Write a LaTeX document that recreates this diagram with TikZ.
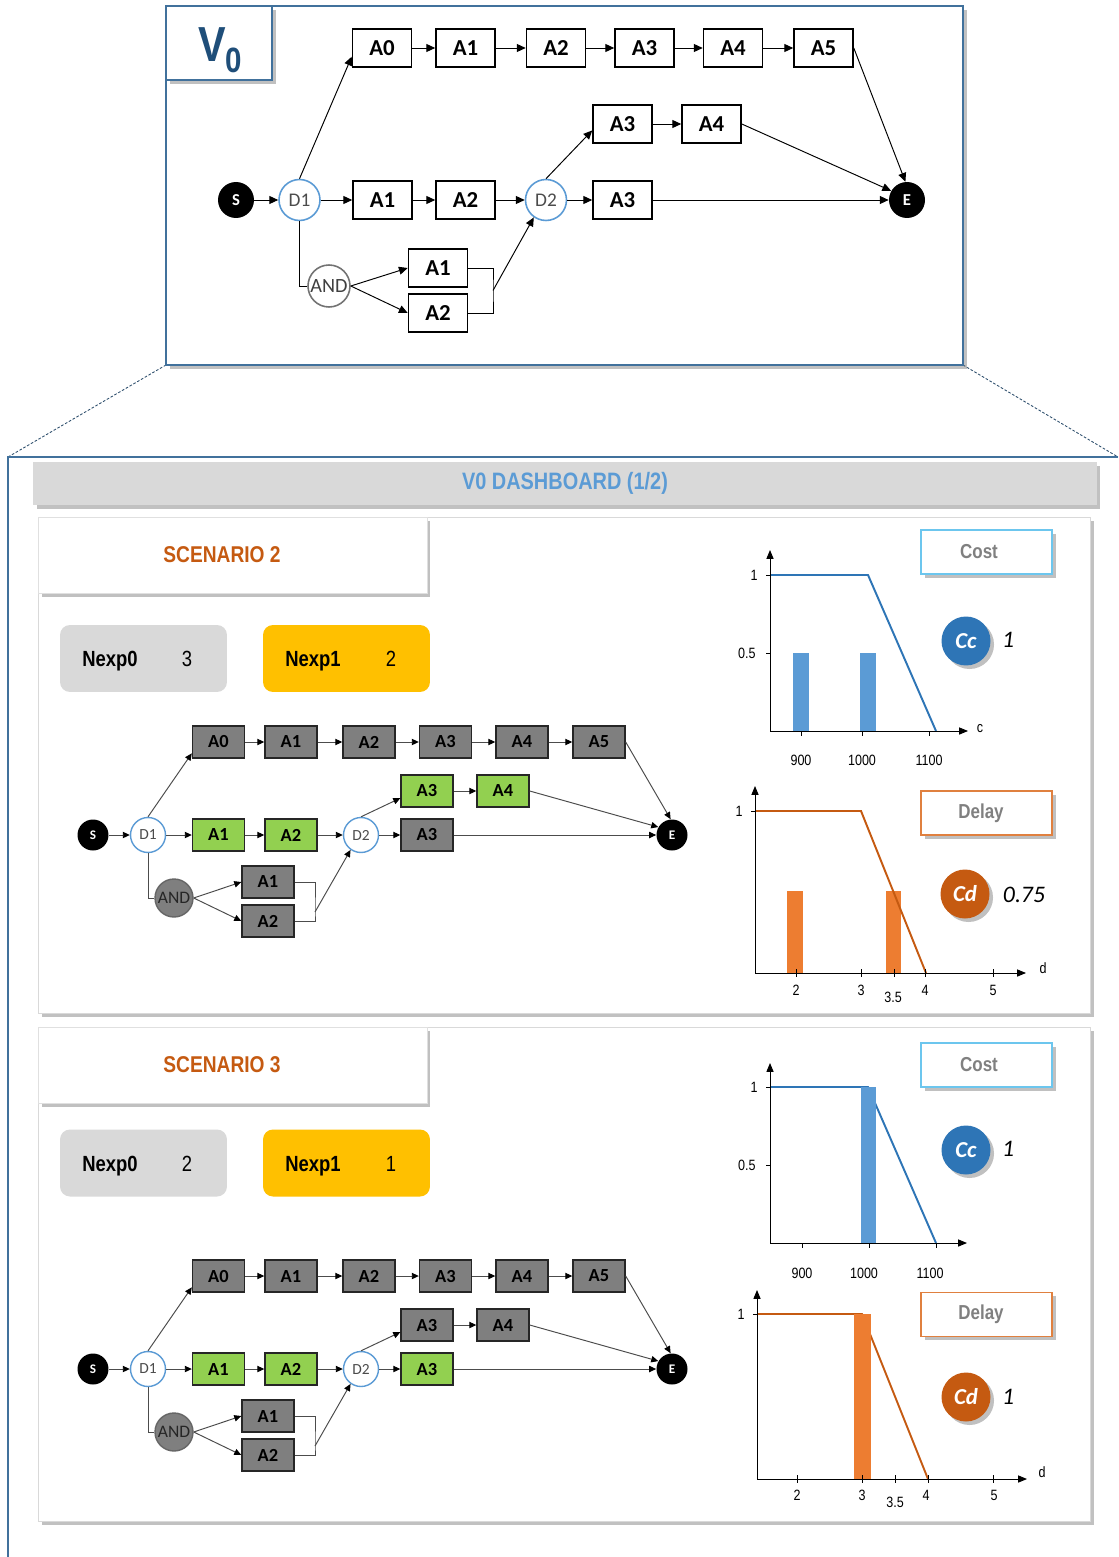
\documentclass[tikz,border=0pt]{standalone}
\usepackage{fontspec}
\setmainfont{Carlito}
\newfontfamily\narrowfont[FakeStretch=0.84]{Liberation Sans}
\usetikzlibrary{arrows.meta, shadows}

\definecolor{frameblue}{HTML}{41719C}
\definecolor{vblue}{HTML}{1F4E79}
\definecolor{decblue}{HTML}{5B9BD5}
\definecolor{actgray}{HTML}{7F7F7F}
\definecolor{actgreen}{HTML}{92D050}
\definecolor{headgray}{HTML}{D9D9D9}
\definecolor{scenorange}{HTML}{C55A11}
\definecolor{nexpgold}{HTML}{FFC000}
\definecolor{costcyan}{HTML}{6CC6EE}
\definecolor{costline}{HTML}{2E75B6}
\definecolor{costbar}{HTML}{5B9BD5}
\definecolor{delayline}{HTML}{C55A11}
\definecolor{delaybar}{HTML}{ED7D31}
\definecolor{delayframe}{HTML}{E0803F}

\begin{document}
\begin{tikzpicture}[
    x=0.02cm, y=-0.02cm,
    every node/.style={inner sep=0pt, align=center},
    boxshadow/.style={drop shadow={shadow xshift=2pt, shadow yshift=-2pt, opacity=0.35, fill=black!70}},
    topact/.style={draw, line width=0.9pt, fill=white, minimum width=1.18cm, minimum height=0.76cm,
                   font=\bfseries\fontsize{13}{13}\selectfont},
    topdec/.style={circle, draw=decblue, line width=0.9pt, fill=white, minimum size=0.82cm,
                   text=black!70, font=\fontsize{11}{11}\selectfont},
    topand/.style={circle, draw=black!55, line width=0.9pt, fill=white, minimum size=0.84cm,
                   text=black!75, font=\fontsize{11.5}{11.5}\selectfont},
    ends/.style={circle, fill=black, minimum size=0.72cm, text=white, font=\bfseries\fontsize{9.5}{9.5}\selectfont},
    sact/.style={draw=black!85, line width=0.8pt, minimum width=1.04cm, minimum height=0.64cm,
                 font=\bfseries\fontsize{10.5}{10.5}\selectfont},
    sdec/.style={circle, draw=decblue, line width=0.8pt, fill=white, minimum size=0.7cm,
                 text=black!70, font=\fontsize{8.8}{8.8}\selectfont},
    sand/.style={circle, draw=black!60, line width=0.8pt, fill=actgray, minimum size=0.76cm,
                 text=black!85, font=\fontsize{10}{10}\selectfont},
    sends/.style={circle, fill=black, minimum size=0.62cm, text=white, font=\bfseries\fontsize{7.5}{7.5}\selectfont},
    arr/.style={-{Triangle[length=5pt, width=4.5pt]}, line width=0.55pt},
    sarr/.style={-{Triangle[length=4pt, width=3.6pt, color=black]}, line width=0.55pt, draw=black!70},
    sline/.style={line width=0.55pt, draw=black!70},
    panel/.style={draw=black!15, fill=white, boxshadow},
    titlebox/.style={draw=black!12, fill=white, boxshadow, minimum width=7.78cm, minimum height=1.52cm,
                     text=scenorange, font=\narrowfont\bfseries\fontsize{13}{13}\selectfont},
    nexpgray/.style={fill=headgray, rounded corners=0.2cm, minimum width=3.34cm, minimum height=1.34cm},
    nexpyellow/.style={fill=nexpgold, rounded corners=0.2cm, minimum width=3.34cm, minimum height=1.34cm},
    nexplbl/.style={anchor=base, font=\narrowfont\bfseries\fontsize{12.5}{12.5}\selectfont},
    nexpval/.style={anchor=base, font=\narrowfont\fontsize{12.5}{12.5}\selectfont},
    costbox/.style={draw=costcyan, line width=0.8pt, fill=white, boxshadow, minimum width=2.62cm,
                    minimum height=0.88cm, text=black!50, font=\narrowfont\bfseries\fontsize{11.5}{11.5}\selectfont},
    delaybox/.style={costbox, draw=delayframe},
    cbadge/.style={circle, minimum size=0.98cm, boxshadow, text=white,
                   font=\bfseries\itshape\fontsize{13}{13}\selectfont},
    cval/.style={font=\itshape\fontsize{13.5}{13.5}\selectfont},
    axis/.style={line width=0.5pt, -{Triangle[length=5pt, width=4pt]}},
    tick/.style={line width=0.5pt},
    ticklbl/.style={font=\narrowfont\fontsize{8.5}{8.5}\selectfont},
    cline/.style={draw=costline, line width=1.1pt},
    dline/.style={draw=delayline, line width=1.1pt},
    zoomline/.style={draw=frameblue!70!black, line width=0.5pt, dash pattern=on 1.5pt off 1pt}
]
\useasboundingbox (0,0) rectangle (1118,1557);

% version frame
\draw[zoomline] (166,365) -- (8,457);
\draw[zoomline] (963,365) -- (1118,457);
\draw[draw=frameblue, line width=1pt, fill=white, boxshadow] (166,6) rectangle (963,365);
\node[draw=frameblue, line width=1pt, fill=white, boxshadow, minimum width=2.12cm, minimum height=1.48cm] (vbox) at (219,43) {};
\node[anchor=base west, text=vblue, font=\narrowfont\bfseries\fontsize{28}{28}\selectfont] (vname) at (198,62)
    {V\raisebox{-6pt}{\fontsize{20}{20}\selectfont 0}};

% process graph of V0
\node[ends]   (tS)   at (236,200)   {S};
\node[topdec] (tD1)  at (299.5,200) {D1};
\foreach \i/\xx in {0/382,1/465.5,2/556,3/644.5,4/733,5/823.5}
    \node[topact] (tA\i) at (\xx,48) {A\i};
\node[topact] (tB1)  at (382.5,200) {A1};
\node[topact] (tB2)  at (465.5,200) {A2};
\node[topdec] (tD2)  at (546,200)   {D2};
\node[topact] (tB3)  at (622.5,200) {A3};
\node[topact] (tC3)  at (622.5,124) {A3};
\node[topact] (tC4)  at (711.5,124) {A4};
\node[ends]   (tE)   at (907,200)   {E};
\node[topand] (tAND) at (329,286)   {AND};
\node[topact] (tP1)  at (438,268)   {A1};
\node[topact] (tP2)  at (438,313)   {A2};
\coordinate (tJ) at (493,290.5);

\draw[arr] (tS) -- (tD1);
\draw[arr] (tD1.north) -- (tA0.196);
\foreach \a/\b in {0/1,1/2,2/3,3/4,4/5}
    \draw[arr] (tA\a) -- (tA\b);
\draw[arr] (tA5.east) -- (tE.95);
\draw[arr] (tD1) -- (tB1);
\draw[arr] (tB1) -- (tB2);
\draw[arr] (tB2) -- (tD2);
\draw[arr] (tD2) -- (tB3);
\draw[arr] (tD2.north) -- (tC3.192);
\draw[arr] (tC3) -- (tC4);
\draw[arr] (tC4.east) -- (tE.150);
\draw[arr] (tB3) -- (tE);
\draw[line width=0.55pt] (tD1.south) |- (tAND.west);
\draw[arr] (tAND.east) -- (tP1.west);
\draw[arr] (tAND.east) -- (tP2.west);
\draw[line width=0.55pt] (tP1.east) -| (tJ) |- (tP2.east);
\draw[arr] (tJ) -- (tD2.235);

% dashboard
\draw[frameblue, line width=1pt] (8,1557) -- (8,457) -- (1118,457);
\node[fill=headgray, boxshadow, minimum width=21.28cm, minimum height=0.86cm, text=decblue,
      font=\narrowfont\bfseries\fontsize{13.5}{13.5}\selectfont] (head) at (565,483.5) {V0 DASHBOARD (1/2)};

\foreach \sc/\ptop/\pbot/\ny/\va/\vb in {2/517/1013/658.5/3/2, 3/1027/1521/1163/2/1}{
    \draw[panel] (38,\ptop) rectangle (1090,\pbot);
    \node[titlebox] (title\sc) at (232.5,\ptop+38) {SCENARIO \sc\hspace{0.42cm}};
    \node[nexpgray]   (nexpa\sc) at (143.5,\ny) {};
    \node[nexplbl]    (nkeya\sc) at (110,\ny+8)   {Nexp0};
    \node[nexpval]    (nvala\sc) at (187,\ny+8)   {\va};
    \node[nexpyellow] (nexpb\sc) at (346.5,\ny) {};
    \node[nexplbl]    (nkeyb\sc) at (313,\ny+8)   {Nexp1};
    \node[nexpval]    (nvalb\sc) at (391,\ny+8)   {\vb};
}

% scenario graphs
\foreach \p/\dy/\fa/\fc/\fu in {g/0/actgreen/actgray/actgreen, h/534/actgreen/actgreen/actgray}{
\begin{scope}[shift={(0,\dy)}]
    \node[sends] (\p S)   at (93,835)    {S};
    \node[sdec]  (\p D1)  at (148,835)   {D1};
    \foreach \i/\xx in {0/218.5,1/291,2/369,3/445.5,4/522,5/599}
        \node[sact, fill=actgray] (\p A\i) at (\xx,742) {A\i};
    \node[sact, fill=\fa] (\p B1) at (218.5,835) {A1};
    \node[sact, fill=\fa] (\p B2) at (291,835)   {A2};
    \node[sdec]           (\p D2) at (361,835)   {D2};
    \node[sact, fill=\fc] (\p B3) at (427,835)   {A3};
    \node[sact, fill=\fu] (\p C3) at (427,791)   {A3};
    \node[sact, fill=\fu] (\p C4) at (503,791)   {A4};
    \node[sends]          (\p E)  at (672,835)   {E};
    \node[sand]           (\p AND) at (174,898)  {AND};
    \node[sact, fill=actgray] (\p P1) at (268,882) {A1};
    \node[sact, fill=actgray] (\p P2) at (268,921) {A2};
    \coordinate (\p J) at (315,912);

    \draw[sarr] (\p S) -- (\p D1);
    \draw[sarr] (\p D1.north) -- (\p A0.203);
    \foreach \a/\b in {0/1,1/2,2/3,3/4,4/5}
        \draw[sarr] (\p A\a) -- (\p A\b);
    \draw[sarr] (\p A5.east) -- (\p E.95);
    \draw[sarr] (\p D1) -- (\p B1);
    \draw[sarr] (\p B1) -- (\p B2);
    \draw[sarr] (\p B2) -- (\p D2);
    \draw[sarr] (\p D2) -- (\p B3);
    \draw[sarr] (\p D2.north) -- (\p C3.195);
    \draw[sarr] (\p C3) -- (\p C4);
    \draw[sarr] (\p C4.east) -- (\p E.150);
    \draw[sarr] (\p B3) -- (\p E);
    \draw[sline] (\p D1.south) |- (\p AND.west);
    \draw[sarr] (\p AND.east) -- (\p P1.west);
    \draw[sarr] (\p AND.east) -- (\p P2.west);
    \draw[sline] (\p P1.east) -| (\p J) |- (\p P2.east);
    \draw[sarr] (\p J) -- (\p D2.235);
\end{scope}
}

% scenario 2 charts
\fill[costbar] (793,653) rectangle (809,731);
\fill[costbar] (860,653) rectangle (876,731);
\draw[cline] (770,575) -- (868,575) -- (936,731);
\draw[axis] (770,731) -- (770,550);
\draw[axis] (770,731) -- (968,731);
\foreach \yy in {575,653} \draw[tick] (766,\yy) -- (770,\yy);
\foreach \xx in {801,862,929} \draw[tick] (\xx,731) -- (\xx,736);
\node[ticklbl, anchor=east] (cy1a) at (758,575) {1};
\node[ticklbl, anchor=east] (cy5a) at (756,653) {0.5};
\node[ticklbl] (cx9a) at (801,760) {900};
\node[ticklbl] (cx10a) at (862,760) {1000};
\node[ticklbl] (cx11a) at (929,760) {1100};
\node[ticklbl] (cxca) at (980,729) {c};
\node[costbox] (cost2) at (986.5,552) {Cost\hspace{0.3cm}};
\node[cbadge, fill=costline] (cc2) at (966,641) {Cc};
\node[cval] (ccv2) at (1008,640) {1};

\fill[delaybar] (787,891) rectangle (803,973);
\fill[delaybar] (886,891) rectangle (901,973);
\draw[dline] (755,811) -- (861,811) -- (926,973);
\draw[axis] (755,973) -- (755,786);
\draw[axis] (755,973) -- (1026,973);
\draw[tick] (751,811) -- (755,811);
\foreach \xx in {796,861,894,925,993} \draw[tick] (\xx,969) -- (\xx,977);
\node[ticklbl, anchor=east] (dy1a) at (743,811) {1};
\foreach \xx/\yy/\t in {796/990/2, 861/990/3, 893/997/3.5, 925/990/4, 993/990/5}
    \node[ticklbl] (dx\t a) at (\xx,\yy) {\t};
\node[ticklbl] (dxda) at (1043,968) {d};
\node[delaybox] (delay2) at (986.5,813) {Delay\hspace{0.22cm}};
\node[cbadge, fill=delayline] (cd2) at (965,894) {Cd};
\node[cval] (cdv2) at (1024,895) {0.75};

% scenario 3 charts
\draw[cline] (770,1087) -- (868,1087) -- (936,1243);
\fill[costbar] (861,1087) rectangle (876,1243);
\draw[axis] (770,1243) -- (770,1063);
\draw[axis] (770,1243) -- (967,1243);
\foreach \yy in {1087,1165} \draw[tick] (766,\yy) -- (770,\yy);
\foreach \xx in {802,869,936} \draw[tick] (\xx,1243) -- (\xx,1248);
\node[ticklbl, anchor=east] (cy1b) at (758,1087) {1};
\node[ticklbl, anchor=east] (cy5b) at (756,1165) {0.5};
\node[ticklbl] (cx9b) at (802,1273) {900};
\node[ticklbl] (cx10b) at (864,1273) {1000};
\node[ticklbl] (cx11b) at (930,1273) {1100};
\node[costbox] (cost3) at (986.5,1065) {Cost\hspace{0.3cm}};
\node[cbadge, fill=costline] (cc3) at (966,1150) {Cc};
\node[cval] (ccv3) at (1008,1149) {1};

\draw[dline] (757,1314) -- (862,1314) -- (928,1479);
\fill[delaybar] (854,1314) rectangle (871,1479);
\draw[axis] (757,1479) -- (757,1290);
\draw[axis] (757,1479) -- (1027,1479);
\draw[tick] (753,1314) -- (757,1314);
\foreach \xx in {797,862,895,928,993} \draw[tick] (\xx,1475) -- (\xx,1483);
\node[ticklbl, anchor=east] (dy1b) at (745,1314) {1};
\foreach \xx/\yy/\t in {797/1495/2, 862/1495/3, 895/1502/3.5, 926/1495/4, 994/1495/5}
    \node[ticklbl] (dx\t b) at (\xx,\yy) {\t};
\node[ticklbl] (dxdb) at (1042,1472) {d};
\node[delaybox] (delay3) at (986.5,1314.5) {Delay\hspace{0.22cm}};
\node[cbadge, fill=delayline] (cd3) at (966,1397) {Cd};
\node[cval] (cdv3) at (1008,1397) {1};
\end{tikzpicture}
\end{document}
